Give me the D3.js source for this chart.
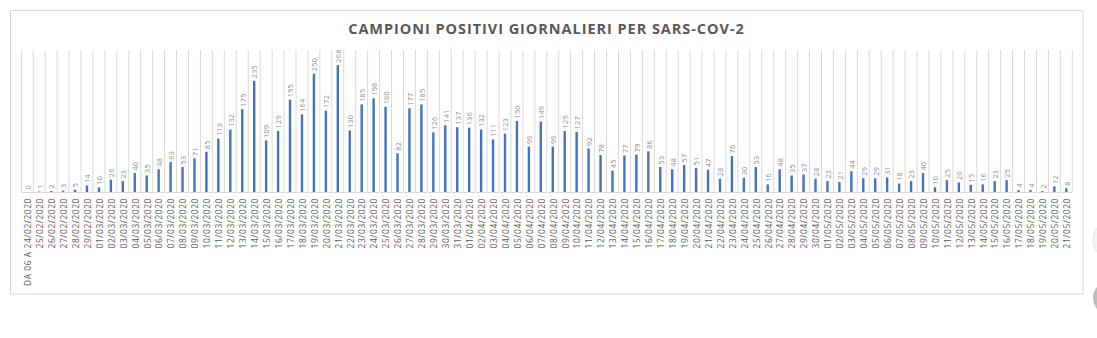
<!DOCTYPE html>
<html><head><meta charset="utf-8">
<script src="https://cdn.jsdelivr.net/npm/d3@7"></script>
<style>body{margin:0;background:#fff;}svg{display:block;}</style>
</head><body>
<svg id="c" width="1097" height="338"></svg>
<script>
const title = "CAMPIONI POSITIVI GIORNALIERI PER SARS-COV-2";
const categories = ["DA 06 A 24/02/2020","25/02/2020","26/02/2020","27/02/2020","28/02/2020","29/02/2020",
"01/03/2020","02/03/2020","03/03/2020","04/03/2020","05/03/2020","06/03/2020","07/03/2020","08/03/2020","09/03/2020","10/03/2020",
"11/03/2020","12/03/2020","13/03/2020","14/03/2020","15/03/2020","16/03/2020","17/03/2020","18/03/2020","19/03/2020","20/03/2020",
"21/03/2020","22/03/2020","23/03/2020","24/03/2020","25/03/2020","26/03/2020","27/03/2020","28/03/2020","29/03/2020","30/03/2020","31/03/2020",
"01/04/2020","02/04/2020","03/04/2020","04/04/2020","05/04/2020","06/04/2020","07/04/2020","08/04/2020","09/04/2020","10/04/2020",
"11/04/2020","12/04/2020","13/04/2020","14/04/2020","15/04/2020","16/04/2020","17/04/2020","18/04/2020","19/04/2020","20/04/2020",
"21/04/2020","22/04/2020","23/04/2020","24/04/2020","25/04/2020","26/04/2020","27/04/2020","28/04/2020","29/04/2020","30/04/2020",
"01/05/2020","02/05/2020","03/05/2020","04/05/2020","05/05/2020","06/05/2020","07/05/2020","08/05/2020","09/05/2020","10/05/2020",
"11/05/2020","12/05/2020","13/05/2020","14/05/2020","15/05/2020","16/05/2020","17/05/2020","18/05/2020","19/05/2020","20/05/2020","21/05/2020"];
const values = [0,1,2,3,5,14,
10,26,23,40,35,48,63,53,71,85,
113,132,175,235,109,129,195,164,250,172,
268,130,185,198,180,82,177,185,126,141,137,
136,132,111,123,150,96,149,96,129,127,
92,78,45,77,79,86,53,48,57,51,
47,28,76,30,53,16,48,35,37,28,
23,21,44,29,29,31,18,23,40,10,
25,20,15,16,23,25,4,4,2,12,8];
const yDomain = [0, 300];

const svg = d3.select("#c");
// decorative UI circles at right edge
svg.append("circle").attr("cx",1112).attr("cy",240).attr("r",19).attr("fill","#f4f4f4").attr("stroke","#e4e4e4");
svg.append("circle").attr("cx",1110).attr("cy",298).attr("r",17).attr("fill","#bdbdbd");
svg.append("circle").attr("cx",1110).attr("cy",345).attr("r",14).attr("fill","#e6e6e6");

svg.append("rect").attr("x",10.5).attr("y",10.5).attr("width",1072.5).attr("height",283.5)
  .attr("fill","#fff").attr("stroke","#d9d9d9").attr("stroke-width",1);

svg.append("text").attr("x",546.5).attr("y",34).attr("text-anchor","middle")
  .attr("font-family","Open Sans, sans-serif").attr("font-weight","bold").attr("font-size",14.5)
  .attr("letter-spacing",0.95).attr("fill","#595959").text(title);

const x = d3.scaleBand().domain(categories).range([21.3, 1072.3]).padding(0);
const y = d3.scaleLinear().domain(yDomain).range([192, 50]);

// category gridlines
const edges = categories.map(c => x(c)).concat([x.range()[1]]);
svg.append("g").selectAll("line").data(edges).join("line")
  .attr("x1",d=>d).attr("x2",d=>d).attr("y1",y(yDomain[1])).attr("y2",y(0))
  .attr("stroke","#d9d9d9").attr("stroke-width",1);

// baseline
svg.append("line").attr("x1",x.range()[0]).attr("x2",x.range()[1]).attr("y1",y(0)+0.5).attr("y2",y(0)+0.5)
  .attr("stroke","#d9d9d9");

const bw = 2.4;
svg.append("g").selectAll("rect").data(values).join("rect")
  .attr("x",(d,i)=>x(categories[i])+x.bandwidth()/2-bw/2)
  .attr("width",bw)
  .attr("y",d=>y(d))
  .attr("height",d=>y(0)-y(d))
  .attr("fill","#4472c4");

// value labels
svg.append("g").selectAll("text").data(values).join("text")
  .attr("transform",(d,i)=>`translate(${x(categories[i])+x.bandwidth()/2+0.3},${y(d)-2.5}) rotate(-90)`)
  .attr("dominant-baseline","central")
  .attr("font-family","Open Sans, sans-serif").attr("font-size",7.2)
  .attr("letter-spacing",0.3)
  .attr("fill","#8c8c8c").text(d=>d);

// x axis category labels
const xAxis = d3.axisBottom(x).tickSize(0).tickPadding(0);
const gx = svg.append("g").attr("transform",`translate(0,${y(0)})`).call(xAxis);
gx.select(".domain").remove();
gx.selectAll("text")
  .attr("transform","translate(0.3,6) rotate(-90)")
  .attr("x",0).attr("y",0).attr("dy",null)
  .attr("text-anchor","end")
  .attr("dominant-baseline","central")
  .attr("font-family","Open Sans, sans-serif").attr("font-size",8.4)
  .attr("letter-spacing",0.6)
  .attr("fill","#595959");
</script>
</body></html>
